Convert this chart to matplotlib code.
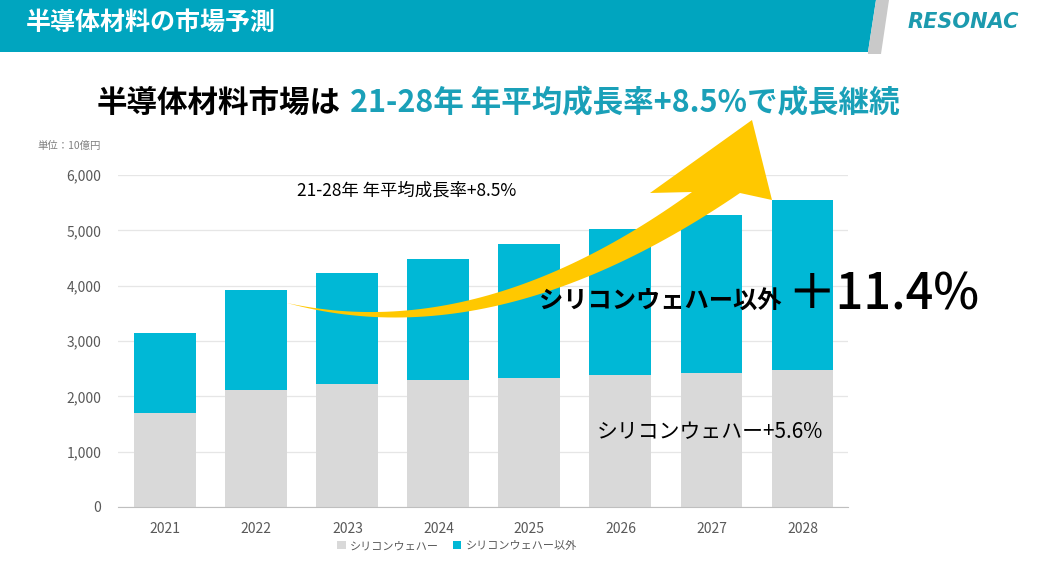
import numpy as np
import matplotlib
matplotlib.use("Agg")
import matplotlib.pyplot as plt
from matplotlib.patches import Polygon

plt.rcParams['font.family'] = ['Noto Sans CJK JP', 'DejaVu Sans']

# data (unit: 10億円)
years = ['2021', '2022', '2023', '2024', '2025', '2026', '2027', '2028']
wafer = [1700, 2120, 2220, 2290, 2340, 2380, 2430, 2470]
other = [1440, 1800, 2000, 2200, 2420, 2640, 2850, 3070]
yticks = [0, 1000, 2000, 3000, 4000, 5000, 6000]

W, H = 1041, 563
TEAL = '#00B8D6'
GRAY = '#D9D9D9'


def px(x, y):
    return (x / W, 1 - y / H)


def bezier(p0, c, p2, n=60):
    t = np.linspace(0, 1, n)[:, None]
    p0, c, p2 = np.array(p0), np.array(c), np.array(p2)
    return (1 - t) ** 2 * p0 + 2 * t * (1 - t) * c + t ** 2 * p2


fig = plt.figure(figsize=(W / 100, H / 100), dpi=100)

# header band
fig.add_artist(Polygon([px(0, 0), px(876, 0), px(868, 52), px(0, 52)],
                       closed=True, transform=fig.transFigure,
                       facecolor='#00A5BF', edgecolor='none'))
fig.add_artist(Polygon([px(876, 0), px(889, 0), px(881, 54), px(868, 54), px(868, 52)],
                       closed=True, transform=fig.transFigure,
                       facecolor='#C9C9C9', edgecolor='none'))
fig.text(*px(26, 23), '半導体材料の市場予測', color='white', fontsize=18,
         fontweight='bold', ha='left', va='center')
fig.text(*px(963, 22), 'RESONAC', color='#1C9AAE', fontsize=15,
         fontweight='bold', fontstyle='italic', family='DejaVu Sans',
         ha='center', va='center')

# headline
fig.text(*px(97, 103), '半導体材料市場は', color='black', fontsize=22,
         fontweight='bold', ha='left', va='center')
fig.text(*px(350, 103), '21-28年 年平均成長率+8.5%で成長継続', color='#1AA0B8',
         fontsize=22, fontweight='bold', ha='left', va='center')

# chart
ax = fig.add_axes([118 / W, 1 - 507 / H, (848 - 118) / W, (507 - 175) / H])
x = np.arange(len(years))
ax.bar(x, wafer, width=0.68, color=GRAY, label='シリコンウェハー', zorder=2)
ax.bar(x, other, width=0.68, bottom=wafer, color=TEAL, label='シリコンウェハー以外', zorder=2)
ax.set_xlim(-0.52, 7.5)
ax.set_ylim(0, 6000)
ax.set_xticks(x)
ax.set_xticklabels(years)
ax.set_yticks(yticks)
ax.set_yticklabels([f'{v:,}' for v in yticks])
ax.tick_params(length=0, labelsize=10, labelcolor='#595959')
ax.tick_params(axis='y', pad=12)
ax.tick_params(axis='x', pad=11)
ax.grid(axis='y', color='#E6E6E6', linewidth=0.9, zorder=0)
ax.set_axisbelow(True)
for s in ['top', 'right', 'left']:
    ax.spines[s].set_visible(False)
ax.spines['bottom'].set_color('#BFBFBF')

fig.text(*px(37, 146), '単位：10億円', color='#808080', fontsize=7.5, ha='left', va='center')

fig.legend(loc='center', bbox_to_anchor=(457 / W, 1 - 546 / H), ncol=2, frameon=False,
           fontsize=8, handlelength=0.8, handleheight=0.8, handletextpad=0.4,
           columnspacing=1.2, labelcolor='#595959')

# yellow curved arrow
upper = bezier((287, 303), (480, 345), (692, 192))
lower = bezier((287, 303), (495, 360), (740, 193))
pts = list(upper) + [(650, 193), (752, 120), (772, 200)] + list(lower[::-1])
fig.add_artist(Polygon([px(a, b) for a, b in pts], closed=True,
                       transform=fig.transFigure, facecolor='#FFC800',
                       edgecolor='none', zorder=2))

# annotations
fig.text(*px(297, 190), '21-28年 年平均成長率+8.5%', color='black', fontsize=12.5,
         ha='left', va='center', zorder=3)
fig.text(*px(539, 302), 'シリコンウェハー以外', color='black', fontsize=17.5,
         fontweight='bold', ha='left', va='center', zorder=3)
fig.text(*px(787, 296), '＋11.4%', color='black', fontsize=35, fontweight='medium',
         ha='left', va='center', zorder=3)
fig.text(*px(597, 432), 'シリコンウェハー+5.6%', color='black', fontsize=15,
         ha='left', va='center', zorder=3)

fig.savefig('out.png', dpi=100)
